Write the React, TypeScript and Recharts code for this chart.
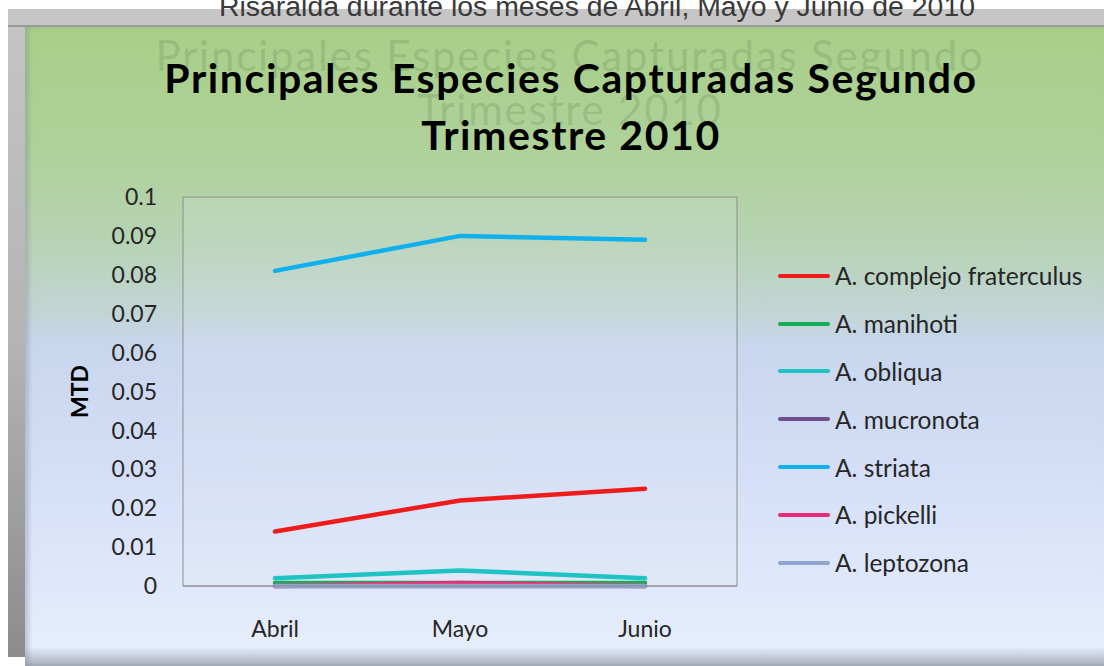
import React from 'react';
import { LineChart, Line, XAxis, YAxis, CartesianGrid, Legend } from 'recharts';

const months = ['Abril', 'Mayo', 'Junio'];
const complejoFraterculus = [0.014, 0.022, 0.025];
const manihoti = [0.0008, 0.0008, 0.0008];
const obliqua = [0.002, 0.004, 0.002];
const mucronota = [0, 0, 0];
const striata = [0.081, 0.09, 0.089];
const pickelli = [0, 0.0008, 0];
const leptozona = [0, 0, 0];

const seriesNames = [
  'A. complejo fraterculus',
  'A. manihoti',
  'A. obliqua',
  'A. mucronota',
  'A. striata',
  'A. pickelli',
  'A. leptozona',
];
const seriesValues = [complejoFraterculus, manihoti, obliqua, mucronota, striata, pickelli, leptozona];
const seriesColors = ['#f01c1c', '#16ad55', '#1ec3c3', '#6e4f8e', '#10b0ee', '#ec2a78', '#8fa5cf'];
const yTicks = [0, 0.01, 0.02, 0.03, 0.04, 0.05, 0.06, 0.07, 0.08, 0.09, 0.1];

const topText = 'Risaralda durante los meses de Abril, Mayo y Junio de 2010';
const titleLines = ['Principales Especies Capturadas Segundo', 'Trimestre 2010'];
const yLabel = 'MTD';

const data = months.map((m, i) => {
  const row: Record<string, any> = { month: m };
  seriesNames.forEach((n, j) => {
    row[n] = seriesValues[j][i];
  });
  return row;
});

const FONT = 'Lato, "Open Sans", sans-serif';

const LegendContent = () => (
  <div style={{ fontFamily: FONT }}>
    {seriesNames.map((n, i) => (
      <div key={n} style={{ display: 'flex', alignItems: 'center', height: 47.8 }}>
        <div style={{ width: 52, height: 4, borderRadius: 2, background: seriesColors[i], marginRight: 5 }} />
        <span style={{ fontSize: 24.5, color: '#262626', whiteSpace: 'nowrap' }}>{n}</span>
      </div>
    ))}
  </div>
);

export default function App() {
  return (
    <div style={{ position: 'absolute', left: 0, top: 0, width: 1104, height: 666, overflow: 'hidden', background: '#ffffff' }}>
      {/* gray frame */}
      <div
        style={{
          position: 'absolute',
          left: 8,
          top: 25,
          width: 1096,
          height: 632,
          background: 'linear-gradient(to bottom, #c4c4c4 0%, #b4b4b4 50%, #8c8c8c 100%)',
        }}
      />
      <div
        style={{
          position: 'absolute',
          left: 8,
          top: 9,
          width: 1096,
          height: 16,
          background: '#c6c6c6',
          borderBottom: '2px solid #9a9a9a',
        }}
      />
      {/* top cut text */}
      <div
        style={{
          position: 'absolute',
          left: 0,
          width: 1194,
          top: -10,
          textAlign: 'center',
          fontFamily: '"Liberation Sans", Arial, sans-serif',
          fontSize: 28.4,
          color: '#3a3a3a',
          whiteSpace: 'nowrap',
        }}
      >
        {topText}
      </div>
      {/* panel */}
      <div
        style={{
          position: 'absolute',
          left: 25,
          top: 27,
          width: 1079,
          height: 639,
          background:
            'linear-gradient(to bottom, #a8cf88 0%, #aed198 18%, #b6d3b2 33%, #c2d5d6 45%, #c8d6ee 50%, #d3def6 68%, #e0e8fb 88%, #e6edfc 97%, #a7adba 100%)',
          boxShadow: 'inset 4px 0 4px rgba(120,130,150,0.35)',
        }}
      />
      {/* ghost title */}
      <div
        style={{
          position: 'absolute',
          left: 0,
          width: 1140,
          top: 28,
          textAlign: 'center',
          fontFamily: FONT,
          fontWeight: 400,
          fontSize: 42,
          letterSpacing: 1.8,
          lineHeight: '54px',
          color: 'rgba(70,110,70,0.2)',
        }}
      >
        {titleLines.map((t) => (
          <div key={t}>{t}</div>
        ))}
      </div>
      {/* title */}
      <div
        style={{
          position: 'absolute',
          left: 0,
          width: 1142,
          top: 49,
          textAlign: 'center',
          fontFamily: FONT,
          fontWeight: 700,
          fontSize: 41,
          letterSpacing: 1.6,
          lineHeight: '57px',
          color: '#000000',
        }}
      >
        {titleLines.map((t) => (
          <div key={t}>{t}</div>
        ))}
      </div>
      <div style={{ position: 'absolute', left: 0, top: 0 }}>
        <LineChart width={1104} height={666} data={data} margin={{ top: 197, right: 366, bottom: 0, left: 0 }}>
          <CartesianGrid vertical={false} stroke="#8e8e8e" strokeWidth={1} fill="#e4e9f4" fillOpacity={0.15} />
          <XAxis
            dataKey="month"
            height={80}
            padding={{ left: 92, right: 92 }}
            tickLine={false}
            axisLine={{ stroke: '#8e8e8e' }}
            tickMargin={29}
            tick={{ fontSize: 23, fill: '#262626', fontFamily: FONT }}
          />
          <YAxis
            yAxisId="left"
            width={183}
            domain={[0, 0.1]}
            ticks={yTicks}
            interval={0}
            tickLine={false}
            axisLine={{ stroke: '#8e8e8e' }}
            tickMargin={20}
            tick={{ fontSize: 23, fill: '#262626', fontFamily: FONT }}
            label={{ value: yLabel, angle: -90, position: 'center', dx: -12, style: { fontSize: 23, fontWeight: 700, fill: '#000', fontFamily: FONT } }}
          />
          <YAxis yAxisId="right" orientation="right" width={1} domain={[0, 0.1]} tick={false} tickLine={false} axisLine={{ stroke: '#8e8e8e' }} />
          {seriesNames.map((n, i) => (
            <Line
              key={n}
              yAxisId="left"
              type="linear"
              dataKey={n}
              stroke={seriesColors[i]}
              strokeWidth={4.5}
              strokeLinecap="round"
              dot={false}
              activeDot={false}
              isAnimationActive={false}
            />
          ))}
          <Legend
            layout="horizontal"
            verticalAlign="middle"
            align="center"
            content={<LegendContent />}
            wrapperStyle={{ left: 778, top: 252, width: 326, height: 340 }}
          />
        </LineChart>
      </div>
    </div>
  );
}
